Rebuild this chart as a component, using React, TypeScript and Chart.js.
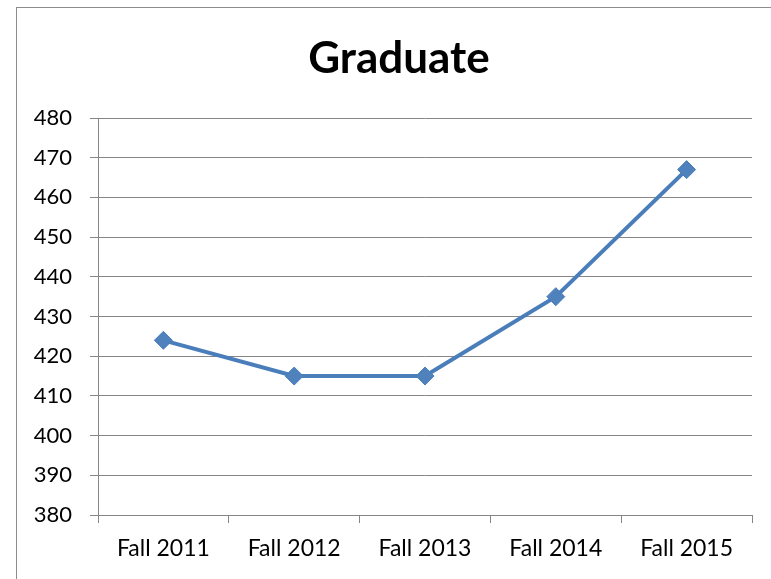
import React, { useEffect, useRef } from "react";
import { Chart, registerables } from "chart.js";

Chart.register(...registerables);

const categories = ["Fall 2011", "Fall 2012", "Fall 2013", "Fall 2014", "Fall 2015"];
const graduateValues = [424, 415, 415, 435, 467];
const yMin = 380;
const yMax = 480;
const yStep = 10;
const chartTitle = "Graduate";

const FONT = "Lato, 'Noto Sans', sans-serif";

const borderPlugin = {
  id: "outerBorder",
  beforeDraw(chart: any) {
    const ctx = chart.ctx;
    ctx.save();
    ctx.fillStyle = "#ffffff";
    ctx.fillRect(0, 0, chart.width, chart.height);
    ctx.strokeStyle = "#8c8c8c";
    ctx.lineWidth = 1;
    ctx.strokeRect(16.5, 7.5, 900, 700);
    ctx.restore();
  },
  afterDraw(chart: any) {
    const ctx = chart.ctx;
    ctx.save();
    ctx.fillStyle = "#000000";
    ctx.font = `bold 44px ${FONT}`;
    ctx.textAlign = "center";
    ctx.textBaseline = "alphabetic";
    ctx.fillText(chartTitle, 399, 73);
    ctx.restore();
  },
};

export default function App() {
  const canvasRef = useRef<HTMLCanvasElement | null>(null);

  useEffect(() => {
    document.body.style.margin = "0";
    const canvas = canvasRef.current;
    if (!canvas) return;
    const chart = new Chart(canvas, {
      type: "line",
      data: {
        labels: categories,
        datasets: [
          {
            label: chartTitle,
            data: graduateValues,
            borderColor: "#4A7EBB",
            backgroundColor: "#4A7EBB",
            borderWidth: 4,
            pointStyle: "rectRot",
            pointRadius: 9,
            pointBorderWidth: 1,
            pointBorderColor: "#4A7EBB",
            pointBackgroundColor: "#4F81BD",
            tension: 0,
          },
        ],
      },
      plugins: [borderPlugin],
      options: {
        responsive: false,
        animation: false,
        devicePixelRatio: 1,
        layout: { padding: { left: 16, right: 19, top: 118, bottom: 18 } },
        plugins: {
          legend: { display: false },
          tooltip: { enabled: false },
          title: { display: false },
        },
        scales: {
          x: {
            type: "category",
            offset: true,
            grid: {
              display: true,
              offset: true,
              drawOnChartArea: false,
              drawTicks: true,
              tickLength: 8,
              color: "#868686",
              lineWidth: 1,
            },
            border: { display: true, color: "#868686", width: 1 },
            ticks: {
              color: "#000000",
              font: { family: FONT, size: 23 },
              padding: 12,
              maxRotation: 0,
            },
            afterFit(scale: any) {
              scale.height = 46;
            },
          },
          y: {
            min: yMin,
            max: yMax,
            grid: {
              color: "#868686",
              lineWidth: 1,
              drawTicks: true,
              tickLength: 8,
            },
            border: { display: true, color: "#868686", width: 1 },
            ticks: {
              stepSize: yStep,
              color: "#000000",
              font: { family: FONT, size: 22 },
              padding: 18,
            },
            afterFit(scale: any) {
              scale.width = 82;
            },
          },
        },
      },
    });
    return () => chart.destroy();
  }, []);

  return (
    <div style={{ width: 771, height: 579 }}>
      <canvas ref={canvasRef} width={771} height={579} style={{ display: "block" }} />
    </div>
  );
}
